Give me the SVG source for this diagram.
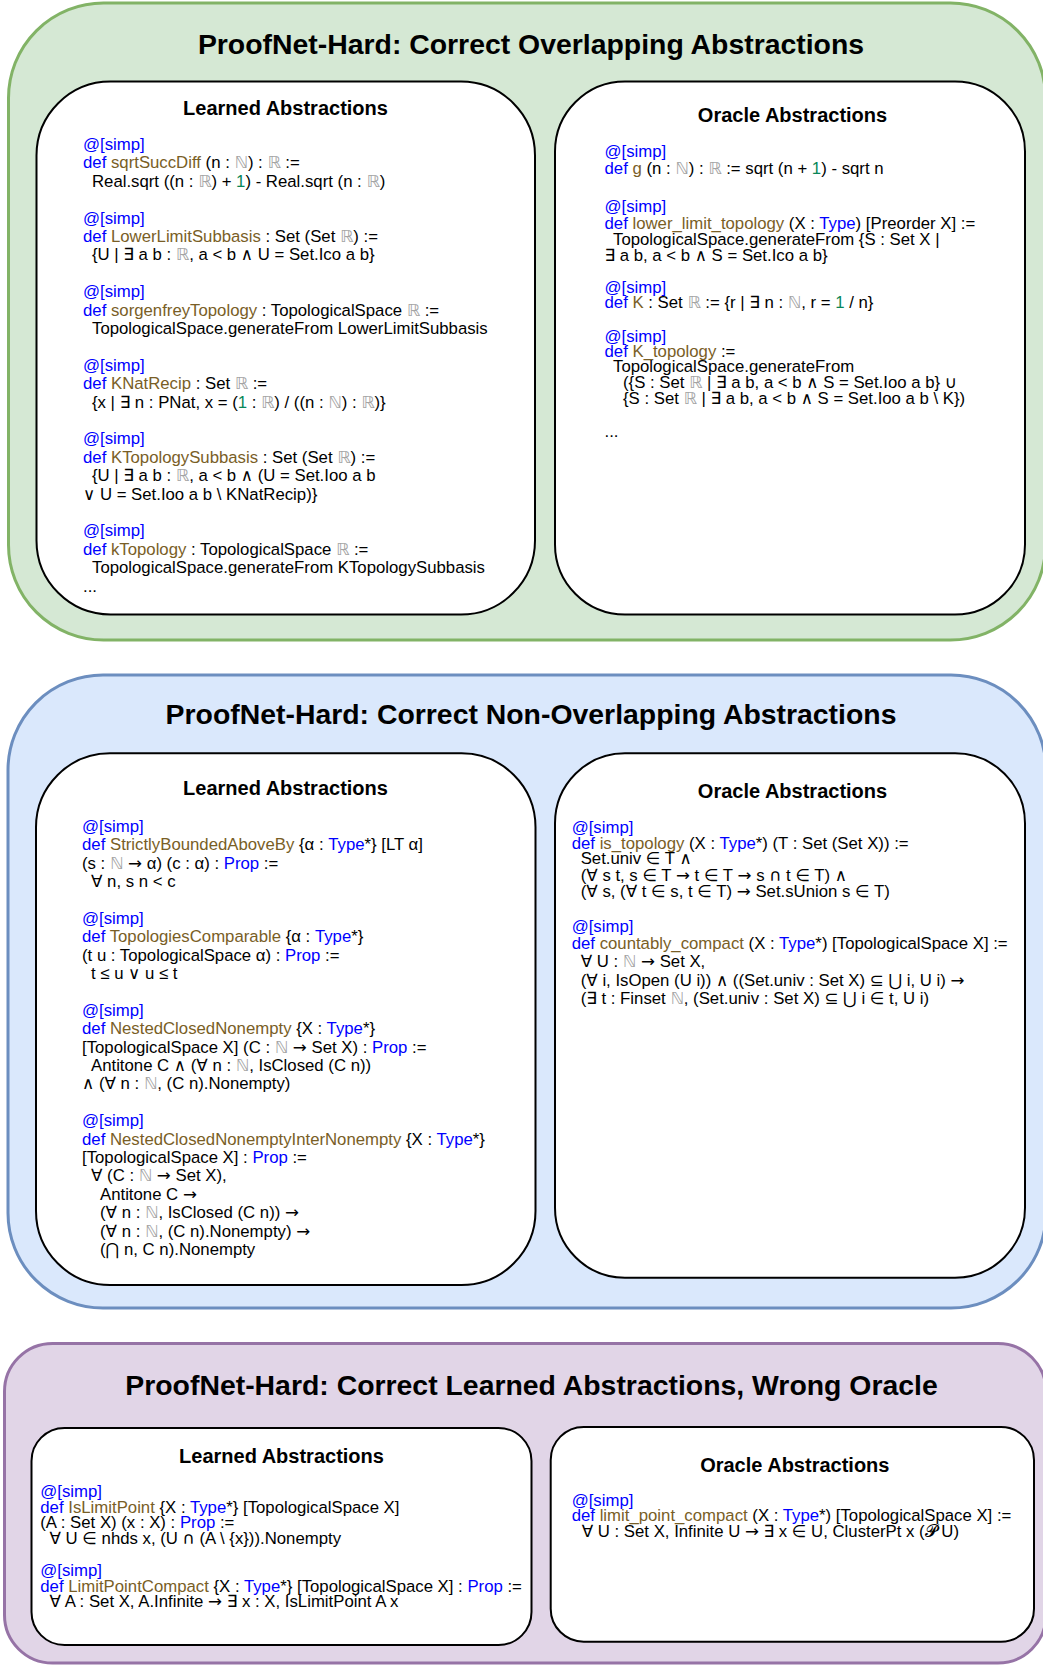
<svg xmlns="http://www.w3.org/2000/svg" width="1043" height="1665" viewBox="0 0 1043 1665">
<style>
text { font-family: "Liberation Sans", Arial, Helvetica, "DejaVu Sans", sans-serif; }
.title { font-size: 28.4px; font-weight: bold; fill: #000; text-anchor: middle; }
.head { font-size: 20px; font-weight: bold; fill: #000; text-anchor: middle; }
.c { font-size: 16.75px; fill: #000; }
.k { fill: #0000ff; }
.f { fill: #795e26; }
.n { fill: #098658; }
.d { fill: #a3a3a3; }
.a { font-family: "DejaVu Sans", sans-serif; }
.green { fill: #d5e8d4; stroke: #82b366; stroke-width: 3; }
.blue { fill: #dae8fc; stroke: #6c8ebf; stroke-width: 3; }
.purple { fill: #e1d5e7; stroke: #9673a6; stroke-width: 3; }
.box { fill: #ffffff; stroke: #000000; stroke-width: 2; }
</style>

<g id="section-overlapping">
  <rect class="green" x="8.5" y="3" width="1037" height="637" rx="95" ry="95"/>
  <text class="title" x="531" y="54">ProofNet-Hard: Correct Overlapping Abstractions</text>
</g>

<g id="learned-overlapping">
  <rect class="box" x="36.5" y="81.5" width="498.5" height="533" rx="74" ry="74"/>
  <text class="head" x="285.5" y="115">Learned Abstractions</text>
  <text class="c" x="83" y="150"><tspan class="k">@[simp]</tspan></text>
  <text class="c" x="83" y="168.4"><tspan class="k">def</tspan> <tspan class="f">sqrtSuccDiff</tspan> (n : <tspan class="d">ℕ</tspan>) : <tspan class="d">ℝ</tspan> :=</text>
  <text class="c" x="92" y="186.8">Real.sqrt ((n : <tspan class="d">ℝ</tspan>) + <tspan class="n">1</tspan>) - Real.sqrt (n : <tspan class="d">ℝ</tspan>)</text>
  <text class="c" x="83" y="223.6"><tspan class="k">@[simp]</tspan></text>
  <text class="c" x="83" y="242"><tspan class="k">def</tspan> <tspan class="f">LowerLimitSubbasis</tspan> : Set (Set <tspan class="d">ℝ</tspan>) :=</text>
  <text class="c" x="92" y="260.4">{U | ∃ a b : <tspan class="d">ℝ</tspan>, a &lt; b ∧ U = Set.Ico a b}</text>
  <text class="c" x="83" y="297.2"><tspan class="k">@[simp]</tspan></text>
  <text class="c" x="83" y="315.6"><tspan class="k">def</tspan> <tspan class="f">sorgenfreyTopology</tspan> : TopologicalSpace <tspan class="d">ℝ</tspan> :=</text>
  <text class="c" x="92" y="334">TopologicalSpace.generateFrom LowerLimitSubbasis</text>
  <text class="c" x="83" y="370.8"><tspan class="k">@[simp]</tspan></text>
  <text class="c" x="83" y="389.2"><tspan class="k">def</tspan> <tspan class="f">KNatRecip</tspan> : Set <tspan class="d">ℝ</tspan> :=</text>
  <text class="c" x="92" y="407.6">{x | ∃ n : PNat, x = (<tspan class="n">1</tspan> : <tspan class="d">ℝ</tspan>) / ((n : <tspan class="d">ℕ</tspan>) : <tspan class="d">ℝ</tspan>)}</text>
  <text class="c" x="83" y="444.4"><tspan class="k">@[simp]</tspan></text>
  <text class="c" x="83" y="462.8"><tspan class="k">def</tspan> <tspan class="f">KTopologySubbasis</tspan> : Set (Set <tspan class="d">ℝ</tspan>) :=</text>
  <text class="c" x="92" y="481.2">{U | ∃ a b : <tspan class="d">ℝ</tspan>, a &lt; b ∧ (U = Set.Ioo a b</text>
  <text class="c" x="83" y="499.6">∨ U = Set.Ioo a b \ KNatRecip)}</text>
  <text class="c" x="83" y="536.4"><tspan class="k">@[simp]</tspan></text>
  <text class="c" x="83" y="554.8"><tspan class="k">def</tspan> <tspan class="f">kTopology</tspan> : TopologicalSpace <tspan class="d">ℝ</tspan> :=</text>
  <text class="c" x="92" y="573.2">TopologicalSpace.generateFrom KTopologySubbasis</text>
  <text class="c" x="83" y="591.6">...</text>
</g>

<g id="oracle-overlapping">
  <rect class="box" x="555" y="81.5" width="470" height="533" rx="70" ry="70"/>
  <text class="head" x="792.5" y="121.7">Oracle Abstractions</text>
  <text class="c" x="604.5" y="156.7"><tspan class="k">@[simp]</tspan></text>
  <text class="c" x="604.5" y="174.3"><tspan class="k">def</tspan> <tspan class="f">g</tspan> (n : <tspan class="d">ℕ</tspan>) : <tspan class="d">ℝ</tspan> := sqrt (n + <tspan class="n">1</tspan>) - sqrt n</text>
  <text class="c" x="604.5" y="212"><tspan class="k">@[simp]</tspan></text>
  <text class="c" x="604.5" y="229.3"><tspan class="k">def</tspan> <tspan class="f">lower_limit_topology</tspan> (X : <tspan class="k">Type</tspan>) [Preorder X] :=</text>
  <text class="c" x="613" y="245">TopologicalSpace.generateFrom {S : Set X |</text>
  <text class="c" x="604.5" y="261">∃ a b, a &lt; b ∧ S = Set.Ico a b}</text>
  <text class="c" x="604.5" y="293.3"><tspan class="k">@[simp]</tspan></text>
  <text class="c" x="604.5" y="308.3"><tspan class="k">def</tspan> <tspan class="f">K</tspan> : Set <tspan class="d">ℝ</tspan> := {r | ∃ n : <tspan class="d">ℕ</tspan>, r = <tspan class="n">1</tspan> / n}</text>
  <text class="c" x="604.5" y="341.7"><tspan class="k">@[simp]</tspan></text>
  <text class="c" x="604.5" y="356.7"><tspan class="k">def</tspan> <tspan class="f">K_topology</tspan> :=</text>
  <text class="c" x="613" y="372.3">TopologicalSpace.generateFrom</text>
  <text class="c" x="623" y="388.3">({S : Set <tspan class="d">ℝ</tspan> | ∃ a b, a &lt; b ∧ S = Set.Ioo a b} ∪</text>
  <text class="c" x="623" y="404">{S : Set <tspan class="d">ℝ</tspan> | ∃ a b, a &lt; b ∧ S = Set.Ioo a b \ K})</text>
  <text class="c" x="604.5" y="437.3">...</text>
</g>

<g id="section-non-overlapping">
  <rect class="blue" x="8" y="675" width="1038" height="633" rx="95" ry="95"/>
  <text class="title" x="531" y="724">ProofNet-Hard: Correct Non-Overlapping Abstractions</text>
</g>

<g id="learned-non-overlapping">
  <rect class="box" x="36" y="753.3" width="499.5" height="531.7" rx="74" ry="74"/>
  <text class="head" x="285.5" y="795">Learned Abstractions</text>
  <text class="c" x="82" y="831.7"><tspan class="k">@[simp]</tspan></text>
  <text class="c" x="82" y="850.1"><tspan class="k">def</tspan> <tspan class="f">StrictlyBoundedAboveBy</tspan> {α : <tspan class="k">Type</tspan>*} [LT α]</text>
  <text class="c" x="82" y="868.5">(s : <tspan class="d">ℕ</tspan> <tspan class="a">→</tspan> α) (c : α) : <tspan class="k">Prop</tspan> :=</text>
  <text class="c" x="91" y="886.9">∀ n, s n &lt; c</text>
  <text class="c" x="82" y="923.7"><tspan class="k">@[simp]</tspan></text>
  <text class="c" x="82" y="942.1"><tspan class="k">def</tspan> <tspan class="f">TopologiesComparable</tspan> {α : <tspan class="k">Type</tspan>*}</text>
  <text class="c" x="82" y="960.5">(t u : TopologicalSpace α) : <tspan class="k">Prop</tspan> :=</text>
  <text class="c" x="91" y="978.9">t ≤ u ∨ u ≤ t</text>
  <text class="c" x="82" y="1015.7"><tspan class="k">@[simp]</tspan></text>
  <text class="c" x="82" y="1034.1"><tspan class="k">def</tspan> <tspan class="f">NestedClosedNonempty</tspan> {X : <tspan class="k">Type</tspan>*}</text>
  <text class="c" x="82" y="1052.5">[TopologicalSpace X] (C : <tspan class="d">ℕ</tspan> <tspan class="a">→</tspan> Set X) : <tspan class="k">Prop</tspan> :=</text>
  <text class="c" x="91" y="1070.9">Antitone C ∧ (∀ n : <tspan class="d">ℕ</tspan>, IsClosed (C n))</text>
  <text class="c" x="82" y="1089.3">∧ (∀ n : <tspan class="d">ℕ</tspan>, (C n).Nonempty)</text>
  <text class="c" x="82" y="1126.1"><tspan class="k">@[simp]</tspan></text>
  <text class="c" x="82" y="1144.5"><tspan class="k">def</tspan> <tspan class="f">NestedClosedNonemptyInterNonempty</tspan> {X : <tspan class="k">Type</tspan>*}</text>
  <text class="c" x="82" y="1162.9">[TopologicalSpace X] : <tspan class="k">Prop</tspan> :=</text>
  <text class="c" x="91" y="1181.3">∀ (C : <tspan class="d">ℕ</tspan> <tspan class="a">→</tspan> Set X),</text>
  <text class="c" x="100" y="1199.7">Antitone C <tspan class="a">→</tspan></text>
  <text class="c" x="100" y="1218.1">(∀ n : <tspan class="d">ℕ</tspan>, IsClosed (C n)) <tspan class="a">→</tspan></text>
  <text class="c" x="100" y="1236.5">(∀ n : <tspan class="d">ℕ</tspan>, (C n).Nonempty) <tspan class="a">→</tspan></text>
  <text class="c" x="100" y="1254.9">(<tspan class="a">⋂</tspan> n, C n).Nonempty</text>
</g>

<g id="oracle-non-overlapping">
  <rect class="box" x="555" y="753.3" width="470" height="524.4" rx="70" ry="70"/>
  <text class="head" x="792.5" y="798.3">Oracle Abstractions</text>
  <text class="c" x="571.7" y="833.3"><tspan class="k">@[simp]</tspan></text>
  <text class="c" x="571.7" y="849.3"><tspan class="k">def</tspan> <tspan class="f">is_topology</tspan> (X : <tspan class="k">Type</tspan>*) (T : Set (Set X)) :=</text>
  <text class="c" x="580.7" y="864.3">Set.univ ∈ T ∧</text>
  <text class="c" x="580.7" y="880.7">(∀ s t, s ∈ T <tspan class="a">→</tspan> t ∈ T <tspan class="a">→</tspan> s <tspan class="a">∩</tspan> t ∈ T) ∧</text>
  <text class="c" x="580.7" y="896.7">(∀ s, (∀ t ∈ s, t ∈ T) <tspan class="a">→</tspan> Set.sUnion s ∈ T)</text>
  <text class="c" x="571.7" y="931.7"><tspan class="k">@[simp]</tspan></text>
  <text class="c" x="571.7" y="949.3"><tspan class="k">def</tspan> <tspan class="f">countably_compact</tspan> (X : <tspan class="k">Type</tspan>*) [TopologicalSpace X] :=</text>
  <text class="c" x="580.7" y="967.3">∀ U : <tspan class="d">ℕ</tspan> <tspan class="a">→</tspan> Set X,</text>
  <text class="c" x="580.7" y="986">(∀ i, IsOpen (U i)) ∧ ((Set.univ : Set X) ⊆ <tspan class="a">⋃</tspan> i, U i) <tspan class="a">→</tspan></text>
  <text class="c" x="580.7" y="1004.3">(∃ t : Finset <tspan class="d">ℕ</tspan>, (Set.univ : Set X) ⊆ <tspan class="a">⋃</tspan> i ∈ t, U i)</text>
</g>

<g id="section-wrong-oracle">
  <rect class="purple" x="4.5" y="1343.5" width="1041.5" height="319.5" rx="48" ry="48"/>
  <text class="title" x="531.5" y="1395">ProofNet-Hard: Correct Learned Abstractions, Wrong Oracle</text>
</g>

<g id="learned-wrong-oracle">
  <rect class="box" x="31.5" y="1428" width="500" height="217" rx="33" ry="33"/>
  <text class="head" x="281.5" y="1462.7">Learned Abstractions</text>
  <text class="c" x="40.3" y="1496.7"><tspan class="k">@[simp]</tspan></text>
  <text class="c" x="40.3" y="1512.7"><tspan class="k">def</tspan> <tspan class="f">IsLimitPoint</tspan> {X : <tspan class="k">Type</tspan>*} [TopologicalSpace X]</text>
  <text class="c" x="40.3" y="1528.3">(A : Set X) (x : X) : <tspan class="k">Prop</tspan> :=</text>
  <text class="c" x="49.5" y="1544">∀ U ∈ nhds x, (U <tspan class="a">∩</tspan> (A \ {x})).Nonempty</text>
  <text class="c" x="40.3" y="1576"><tspan class="k">@[simp]</tspan></text>
  <text class="c" x="40.3" y="1591.7"><tspan class="k">def</tspan> <tspan class="f">LimitPointCompact</tspan> {X : <tspan class="k">Type</tspan>*} [TopologicalSpace X] : <tspan class="k">Prop</tspan> :=</text>
  <text class="c" x="49.5" y="1607.3">∀ A : Set X, A.Infinite <tspan class="a">→</tspan> ∃ x : X, IsLimitPoint A x</text>
</g>

<g id="oracle-wrong-oracle">
  <rect class="box" x="550.7" y="1427" width="483.3" height="214.7" rx="33" ry="33"/>
  <text class="head" x="794.8" y="1471.7">Oracle Abstractions</text>
  <text class="c" x="571.7" y="1505.7"><tspan class="k">@[simp]</tspan></text>
  <text class="c" x="571.7" y="1521"><tspan class="k">def</tspan> <tspan class="f">limit_point_compact</tspan> (X : <tspan class="k">Type</tspan>*) [TopologicalSpace X] :=</text>
  <text class="c" x="581.7" y="1536.7">∀ U : Set X, Infinite U <tspan class="a">→</tspan> ∃ x ∈ U, ClusterPt x (𝓟 U)</text>
</g>

<g id="connectors"></g>
</svg>
